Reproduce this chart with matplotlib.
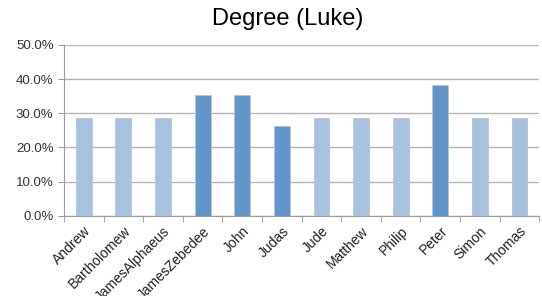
import numpy as np
import matplotlib.pyplot as plt
from matplotlib.ticker import PercentFormatter

# Data
apostles = ["Andrew", "Bartholomew", "JamesAlphaeus", "JamesZebedee", "John",
            "Judas", "Jude", "Matthew", "Philip", "Peter", "Simon", "Thomas"]
degree = [28.5, 28.5, 28.5, 35.4, 35.4, 26.3, 28.5, 28.5, 28.5, 38.2, 28.5, 28.5]
highlight = ["JamesZebedee", "John", "Judas", "Peter"]

light = "#a7c2e0"
dark = "#6196cb"
colors = [dark if a in highlight else light for a in apostles]

plt.rcParams["font.family"] = ["Liberation Sans", "DejaVu Sans"]

fig = plt.figure(figsize=(5.42, 2.96), dpi=100)
ax = fig.add_axes([0.118, 0.271, 0.877, 0.577])

x = np.arange(len(apostles))
ax.bar(x, degree, width=0.4, color=colors, edgecolor="#b8c4d0", linewidth=0.6, zorder=3)

ax.set_xlim(-0.5, len(apostles) - 0.5)
ax.set_ylim(0, 50)
ax.set_yticks(np.arange(0, 51, 10))
ax.yaxis.set_major_formatter(PercentFormatter(decimals=1))
ax.grid(axis="y", color="#b3b3b3", linewidth=1, zorder=0)

ax.set_xticks(x)
ax.set_xticklabels(apostles, rotation=45, ha="right", rotation_mode="anchor")
ax.set_xticks(np.arange(-0.5, len(apostles)), minor=True)
ax.tick_params(axis="x", which="major", length=0, pad=6, labelsize=10, labelcolor="#222222")
ax.tick_params(axis="x", which="minor", length=4, color="#999999")
ax.tick_params(axis="y", length=4, color="#999999", labelsize=9.5, labelcolor="#333333")

for side in ["top", "right"]:
    ax.spines[side].set_visible(False)
for side in ["left", "bottom"]:
    ax.spines[side].set_color("#999999")

fig.text(0.53, 0.935, "Degree (Luke)", ha="center", va="center", fontsize=17)

plt.savefig("out.png", dpi=100)
